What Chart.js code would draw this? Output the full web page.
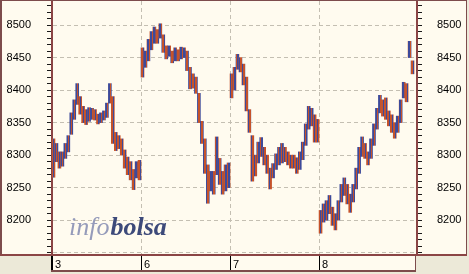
<!DOCTYPE html>
<html>
<head>
<meta charset="utf-8">
<script src="https://cdn.jsdelivr.net/npm/chart.js@4"></script>
<style>
  html, body { margin: 0; padding: 0; background: #ece9d8; }
  #wrap { position: relative; width: 469px; height: 274px; }
</style>
</head>
<body>
<div id="wrap"><canvas id="chart" width="469" height="274"></canvas></div>
<script>
const dayLabels = ["3", "6", "7", "8"];

// intraday bars, low / high per slot (approx. 15 min each)
const day3Low = [8266, 8290, 8280, 8283, 8295, 8305, 8332, 8355, 8378, 8363, 8350, 8347, 8352, 8355, 8354, 8348, 8350, 8354, 8358, 8380, 8318, 8307, 8310, 8300, 8280, 8270, 8262, 8247, 8265, 8262];
const day3High = [8325, 8318, 8305, 8305, 8318, 8330, 8365, 8385, 8410, 8390, 8375, 8370, 8373, 8372, 8370, 8363, 8365, 8368, 8380, 8410, 8390, 8335, 8330, 8325, 8308, 8297, 8290, 8278, 8290, 8292];

const day6Low = [8420, 8435, 8445, 8462, 8472, 8472, 8480, 8458, 8448, 8452, 8442, 8445, 8445, 8448, 8450, 8430, 8402, 8403, 8395, 8350, 8318, 8272, 8226, 8245, 8240, 8270, 8255, 8240, 8245, 8250];
const day6High = [8465, 8460, 8478, 8490, 8497, 8493, 8502, 8485, 8468, 8468, 8460, 8465, 8462, 8466, 8465, 8460, 8435, 8425, 8420, 8395, 8352, 8325, 8285, 8275, 8275, 8328, 8295, 8275, 8285, 8288];

const day7Low = [8388, 8400, 8432, 8428, 8408, 8368, 8335, 8260, 8268, 8288, 8298, 8285, 8272, 8248, 8265, 8278, 8285, 8288, 8290, 8285, 8280, 8280, 8272, 8278, 8293, 8315, 8340, 8345, 8320, 8320];
const day7High = [8425, 8435, 8455, 8450, 8440, 8420, 8370, 8330, 8300, 8320, 8327, 8312, 8300, 8280, 8287, 8302, 8312, 8318, 8312, 8305, 8300, 8300, 8296, 8305, 8320, 8348, 8375, 8372, 8362, 8355];

const day8Low = [8180, 8197, 8200, 8210, 8192, 8185, 8200, 8228, 8238, 8225, 8212, 8228, 8248, 8272, 8298, 8295, 8285, 8295, 8315, 8340, 8365, 8360, 8355, 8345, 8335, 8326, 8335, 8350, 8388, 8382, 8450, 8425];
const day8High = [8215, 8225, 8230, 8238, 8220, 8210, 8230, 8255, 8265, 8255, 8240, 8255, 8280, 8312, 8328, 8318, 8305, 8325, 8348, 8372, 8392, 8385, 8388, 8368, 8362, 8350, 8360, 8385, 8412, 8410, 8475, 8445];

const trailingSlots = 1;

const CREAM = "#fffbef";
const FRAME = "#7d4c4c";
const AXIS = "#8b4545";
const GRID = "#c4bfb2";
const UP = "#3d4a9a";
const DOWN = "#c5532b";

const canvas = document.getElementById("chart");

function stripePattern(main, accent) {
  const tile = document.createElement("canvas");
  tile.width = 3;
  tile.height = 1;
  const g = tile.getContext("2d");
  g.fillStyle = main;
  g.fillRect(0, 0, 3, 1);
  g.fillStyle = accent;
  g.fillRect(2, 0, 1, 1);
  return canvas.getContext("2d").createPattern(tile, "repeat");
}

const upFill = stripePattern(UP, DOWN);
const downFill = stripePattern(DOWN, UP);

const lows = [day3Low, day6Low, day7Low, day8Low];
const highs = [day3High, day6High, day7High, day8High];

const labels = [];
const ranges = [];
const fills = [];
const dayStarts = [];

lows.forEach((dayLows, d) => {
  dayStarts.push(labels.length);
  dayLows.forEach((low, i) => {
    const high = highs[d][i];
    labels.push(i === 0 ? dayLabels[d] : "");
    ranges.push([low, high]);
    const prevMid = i > 0 ? (dayLows[i - 1] + highs[d][i - 1]) / 2 : Infinity;
    fills.push((low + high) / 2 > prevMid ? upFill : downFill);
  });
});
for (let i = 0; i < trailingSlots; i++) {
  labels.push("");
  ranges.push(null);
  fills.push(downFill);
}

const isMajor = (value) => Math.round(value) % 50 === 0;

const framePlugin = {
  id: "frame",
  beforeDraw(chart) {
    const { ctx, chartArea: a, width } = chart;
    ctx.save();
    ctx.fillStyle = CREAM;
    ctx.fillRect(0, 0, width - 2, a.bottom + 2);
    ctx.fillRect(a.left - 1, a.bottom + 1, a.right - a.left, 16);
    ctx.restore();
  },
  beforeDatasetsDraw(chart) {
    const { ctx, chartArea: a } = chart;
    ctx.save();
    ctx.textBaseline = "alphabetic";
    ctx.font = "italic 26px 'Liberation Serif'";
    ctx.fillStyle = "#959bba";
    const x0 = a.left + 17;
    const base = a.bottom - 19;
    ctx.fillText("info", x0, base);
    const w = ctx.measureText("info").width;
    ctx.font = "italic bold 26px 'Liberation Serif'";
    ctx.fillStyle = "#3d4a7a";
    ctx.fillText("bolsa", x0 + w + 1, base);
    ctx.restore();
  },
  afterDraw(chart) {
    const { ctx, chartArea: a, width } = chart;
    const xs = chart.scales.x;
    const half = (xs.getPixelForValue(1) - xs.getPixelForValue(0)) / 2;
    ctx.save();
    ctx.fillStyle = FRAME;
    ctx.fillRect(0, 0, width - 2, 1);
    ctx.fillRect(0, 0, 2, a.bottom + 2);
    ctx.fillRect(width - 3, 0, 1, a.bottom + 2);
    ctx.fillStyle = AXIS;
    ctx.fillRect(0, a.bottom, width - 2, 2);
    // date strip
    const top = a.bottom + 2;
    ctx.fillStyle = FRAME;
    ctx.fillRect(a.left - 1, top + 14, a.right - a.left, 2);
    ctx.fillRect(a.right - 2, top, 1, 16);
    ctx.font = "11px 'Liberation Sans'";
    ctx.textBaseline = "alphabetic";
    dayStarts.forEach((idx, d) => {
      const x = Math.round(xs.getPixelForValue(idx) - half);
      ctx.fillStyle = "#000";
      ctx.fillRect(d === 0 ? x - 1 : x, top, d === 0 ? 2 : 1, 14);
      ctx.fillText(dayLabels[d], x + 3, top + 12);
    });
    ctx.restore();
  }
};

const yTicks = (padding) => ({
  stepSize: 10,
  autoSkip: false,
  includeBounds: false,
  padding,
  color: "#000",
  font: { family: "Liberation Sans", size: 11 },
  callback: (v) => (isMajor(v) && v >= 8200 ? String(Math.round(v)) : "")
});

function fixYAxis(scale) {
  scale.width = 52;
  scale.paddingTop = 0;
  scale.paddingBottom = 0;
}

new Chart(canvas, {
  type: "bar",
  data: {
    labels,
    datasets: [
      {
        data: ranges,
        backgroundColor: fills,
        borderWidth: 0,
        barPercentage: 1,
        categoryPercentage: 1
      }
    ]
  },
  options: {
    responsive: false,
    animation: false,
    layout: { padding: { top: 1, bottom: 20, left: 0, right: 0 } },
    plugins: { legend: { display: false }, tooltip: { enabled: false } },
    scales: {
      x: {
        offset: true,
        afterFit(scale) {
          scale.height = 0;
          scale.paddingLeft = 0;
          scale.paddingRight = 0;
        },
        ticks: { display: false },
        grid: {
          offset: true,
          drawTicks: false,
          color: (ctx) => (ctx.index > 0 && dayStarts.includes(ctx.index) ? GRID : "transparent")
        },
        border: { display: false, dash: [4, 3] }
      },
      y: {
        position: "left",
        min: 8148,
        max: 8537,
        afterFit: fixYAxis,
        ticks: yTicks(16),
        grid: {
          color: (ctx) => (ctx.tick && isMajor(ctx.tick.value) ? GRID : "transparent"),
          tickColor: "#1a1a1a",
          tickLength: 5
        },
        border: { display: true, color: AXIS, width: 2, dash: [4, 3] }
      },
      y2: {
        position: "right",
        min: 8148,
        max: 8537,
        afterFit: fixYAxis,
        ticks: yTicks(15),
        grid: { drawOnChartArea: false, tickColor: "#1a1a1a", tickLength: 5 },
        border: { display: true, color: AXIS, width: 2 }
      }
    }
  },
  plugins: [framePlugin]
});
</script>
</body>
</html>
